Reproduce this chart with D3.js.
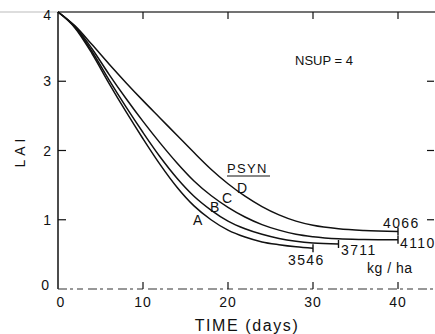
<!DOCTYPE html>
<html><head><meta charset="utf-8">
<script src="https://cdn.jsdelivr.net/npm/d3@7"></script>
<style>body{margin:0;background:#fff}svg{display:block}text{font-family:"Liberation Sans",Arial,sans-serif;fill:#111}</style>
</head><body>
<script>
const xTicks = [0, 10, 20, 30, 40];
const yTicks = [0, 1, 2, 3, 4];
const seriesNames = ["A", "B", "C", "D"];
const endLabels = ["3546", "3711", "4110", "4066"];
const curveA = [[0,4],[2,3.77],[4,3.40],[6,2.97],[8,2.56],[10,2.17],[12,1.80],[14,1.47],[16,1.20],[18,1.00],[20,0.85],[22,0.75],[24,0.68],[26,0.64],[28,0.61],[30,0.59]];
const curveB = [[0,4],[2,3.78],[4,3.43],[6,3.02],[8,2.63],[10,2.26],[12,1.91],[14,1.60],[16,1.34],[18,1.14],[20,0.98],[22,0.87],[24,0.79],[26,0.73],[28,0.69],[30,0.665],[33,0.65]];
const curveC = [[0,4],[2,3.79],[4,3.47],[6,3.10],[8,2.75],[10,2.42],[12,2.11],[14,1.82],[16,1.56],[18,1.35],[20,1.18],[22,1.04],[24,0.93],[26,0.85],[28,0.79],[30,0.755],[33,0.725],[36,0.715],[40,0.71]];
const curveD = [[0,4],[2,3.80],[4,3.53],[6,3.25],[8,2.98],[10,2.72],[12,2.47],[14,2.22],[16,1.97],[18,1.73],[20,1.52],[22,1.34],[24,1.19],[26,1.07],[28,0.98],[30,0.92],[33,0.87],[36,0.845],[40,0.83]];
const curves = [curveA, curveB, curveC, curveD];

const W = 435, H = 334;
const svg = d3.select("body").append("svg").attr("width", W).attr("height", H);
const x = d3.scaleLinear().domain([0, 40]).range([58, 398]);
const y = d3.scaleLinear().domain([0, 4]).range([289, 12]);

// frame lines
svg.append("line").attr("x1", 0).attr("x2", 58).attr("y1", y(4)).attr("y2", y(4)).attr("stroke", "#bbb").attr("stroke-width", 1.2);
svg.append("line").attr("x1", 58).attr("x2", W).attr("y1", y(4)).attr("y2", y(4)).attr("stroke", "#444").attr("stroke-width", 1.3);
svg.append("line").attr("x1", 58).attr("x2", 58).attr("y1", y(4)).attr("y2", y(0)).attr("stroke", "#111").attr("stroke-width", 1.5);
svg.append("line").attr("x1", 58).attr("x2", W).attr("y1", y(0)).attr("y2", y(0)).attr("stroke", "#333").attr("stroke-width", 1.2).attr("stroke-dasharray", "9,3,3,4,6,5");

// ticks
const g = svg.append("g").attr("stroke", "#111").attr("stroke-width", 1.2);
xTicks.slice(1).forEach(t => {
  g.append("line").attr("x1", x(t)).attr("x2", x(t)).attr("y1", y(0)).attr("y2", y(0) - 7);
  g.append("line").attr("x1", x(t)).attr("x2", x(t)).attr("y1", y(4)).attr("y2", y(4) + 7);
});
yTicks.slice(1, 4).forEach(t => {
  g.append("line").attr("x1", 58).attr("x2", 66).attr("y1", y(t)).attr("y2", y(t));
  g.append("line").attr("x1", 427).attr("x2", 434).attr("y1", y(t)).attr("y2", y(t));
});

// tick labels
svg.selectAll(".xt").data(xTicks).enter().append("text")
  .attr("x", d => x(d) + (d === 0 ? 3 : 0)).attr("y", 307).attr("text-anchor", "middle")
  .attr("font-size", 14).attr("letter-spacing", 1).text(d => d);
svg.selectAll(".yt").data(yTicks).enter().append("text")
  .attr("x", d => d === 0 ? 49 : 51).attr("y", d => y(d) + (d === 4 ? 8 : d === 0 ? 1 : 5)).attr("text-anchor", "end")
  .attr("font-size", 14).text(d => d);

// axis titles
svg.append("text").attr("x", 247).attr("y", 331).attr("text-anchor", "middle").attr("font-size", 16).attr("letter-spacing", 1.6).text("TIME (days)");
svg.append("text").attr("transform", "translate(25,151) rotate(-90)").attr("text-anchor", "middle").attr("font-size", 14).attr("letter-spacing", 4).text("LAI");

// curves
const line = d3.line().x(d => x(d[0])).y(d => y(d[1])).curve(d3.curveMonotoneX);
svg.selectAll(".crv").data(curves).enter().append("path")
  .attr("d", line).attr("fill", "none").attr("stroke", "#111").attr("stroke-width", 1.5);
// end markers
curves.forEach(c => {
  const e = c[c.length - 1];
  svg.append("line").attr("x1", x(e[0])).attr("x2", x(e[0])).attr("y1", y(e[1]) - 4).attr("y2", y(e[1]) + 4)
    .attr("stroke", "#111").attr("stroke-width", 1.4);
});

// curve letters
const letterPos = [[193, 225], [210, 212], [222, 203], [237, 193]];
seriesNames.forEach((n, i) => {
  svg.append("text").attr("x", letterPos[i][0]).attr("y", letterPos[i][1]).attr("font-size", 14).text(n);
});
svg.append("text").attr("x", 227).attr("y", 173).attr("font-size", 13).attr("letter-spacing", 1.3).text("PSYN");
svg.append("line").attr("x1", 227).attr("x2", 270).attr("y1", 176).attr("y2", 176).attr("stroke", "#111").attr("stroke-width", 1.2);

// end labels
const endPos = [[288, 265], [341, 255], [400, 248], [383, 228]];
endLabels.forEach((t, i) => {
  svg.append("text").attr("x", endPos[i][0]).attr("y", endPos[i][1]).attr("font-size", 14).attr("letter-spacing", 1.4).text(t);
});
svg.append("text").attr("x", 367).attr("y", 273).attr("font-size", 14).attr("letter-spacing", 0.5).text("kg / ha");
svg.append("text").attr("x", 295).attr("y", 65).attr("font-size", 13).text("NSUP = 4");
</script>
</body></html>
